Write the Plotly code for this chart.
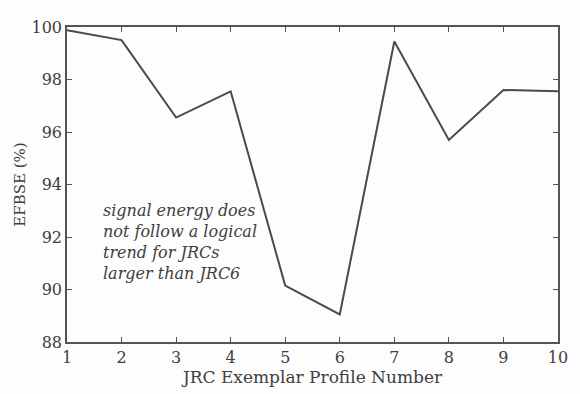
import plotly.graph_objects as go

# JRC exemplar profiles and their EFBSE values (%)
profiles = [1, 2, 3, 4, 5, 6, 7, 8, 9, 10]
efbse = [99.88, 99.5, 96.55, 97.55, 90.15, 89.05, 99.45, 95.7, 97.6, 97.55]

x_ticks = [1, 2, 3, 4, 5, 6, 7, 8, 9, 10]
y_ticks = [88, 90, 92, 94, 96, 98, 100]

note_lines = [
    "signal energy does",
    "not follow a logical",
    "trend for JRCs",
    "larger than JRC6",
]

ink = "#404040"
font_family = "DejaVu Serif"

fig = go.Figure()
fig.add_trace(go.Scatter(
    x=profiles, y=efbse, mode="lines",
    line=dict(color="#4a4a4a", width=2),
    hoverinfo="skip", showlegend=False,
))

# italic note, one annotation per line for tight leading
for i, txt in enumerate(note_lines):
    fig.add_annotation(
        x=1.62, y=93.0, xref="x", yref="y",
        yshift=-21 * i,
        text=f"<i>{txt}</i>", showarrow=False,
        xanchor="left", yanchor="middle", align="left",
        font=dict(family=font_family, size=16, color=ink),
    )

axis_common = dict(
    showgrid=False, zeroline=False,
    showline=True, linecolor="#555555", linewidth=1.6, mirror="ticks",
    ticks="inside", ticklen=5, tickwidth=1.3, tickcolor="#555555",
    tickfont=dict(family=font_family, size=16, color=ink),
)

fig.update_xaxes(
    range=[1, 10], tickvals=x_ticks, ticktext=[str(v) for v in x_ticks],
    title=dict(text="JRC Exemplar Profile Number",
               font=dict(family=font_family, size=17, color=ink), standoff=2),
    **axis_common,
)
fig.update_yaxes(
    range=[88, 100], tickvals=y_ticks, ticktext=[str(v) for v in y_ticks],
    title=dict(text="EFBSE (%)",
               font=dict(family=font_family, size=15, color=ink), standoff=2),
    **axis_common,
)

fig.update_layout(
    width=580, height=394,
    margin=dict(l=67, r=12, t=27, b=52),
    paper_bgcolor="#fdfdfd", plot_bgcolor="#fdfdfd",
)

fig.write_html("out.html")
